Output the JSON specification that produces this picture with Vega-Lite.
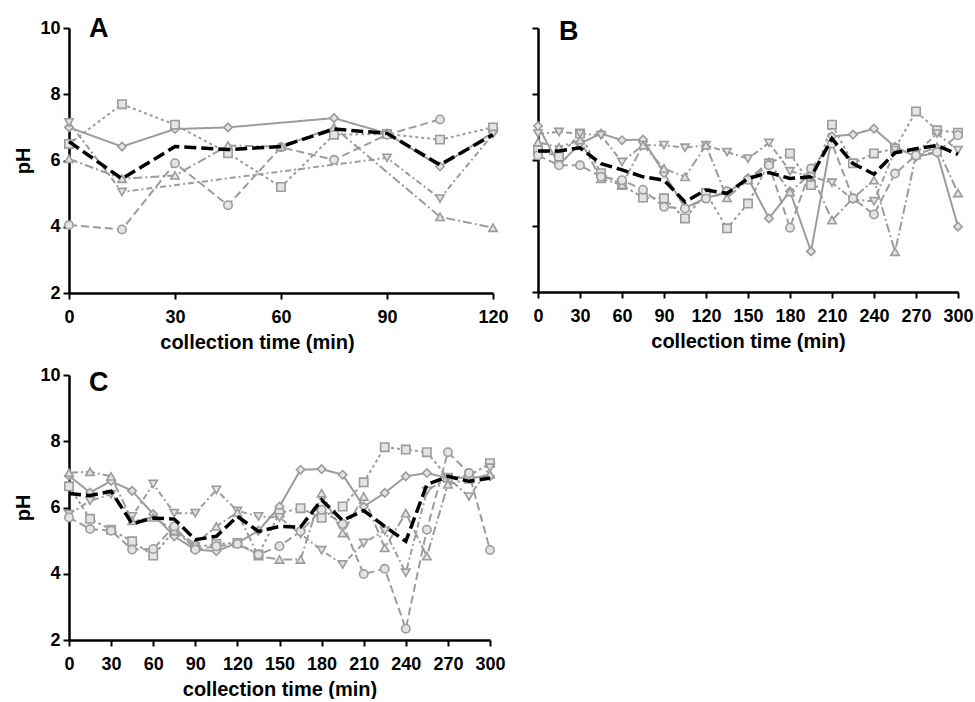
{
  "$schema": "https://vega.github.io/schema/vega-lite/v6.json",
  "autosize": {"type": "pad"},
  "padding": {"left": 13, "top": 15, "right": 5, "bottom": 0},
  "background": "white",
  "columns": 2,
  "spacing": {"row": 82, "column": 45},
  "bounds": "flush",
  "config": {
    "view": {"stroke": null},
    "font": "Liberation Sans",
    "axis": {
      "grid": false,
      "domainColor": "black", "domainWidth": 2.5,
      "tickColor": "black", "tickWidth": 2, "tickSize": 6,
      "labelFont": "Liberation Sans", "labelFontWeight": "bold", "labelFontSize": 18, "labelColor": "black",
      "titleFont": "Liberation Sans", "titleFontWeight": "bold", "titleColor": "black"
    },
    "axisX": {"labelPadding": 9, "titlePadding": 6, "labelFlush": false, "titleFontSize": 20},
    "axisY": {"labelPadding": 3, "titlePadding": 6, "labelFlush": false, "titleFontSize": 20},
    "title": {"font": "Liberation Sans", "fontWeight": "bold", "fontSize": 27, "color": "black", "anchor": "start", "frame": "group", "offset": 0, "baseline": "alphabetic"}
  },
  "data": {"values": [
    {"panel":"A","series":"mean","t":0,"pH":6.57},{"panel":"A","series":"mean","t":15,"pH":5.45},{"panel":"A","series":"mean","t":30,"pH":6.42},{"panel":"A","series":"mean","t":45,"pH":6.33},{"panel":"A","series":"mean","t":60,"pH":6.42},{"panel":"A","series":"mean","t":75,"pH":6.95},{"panel":"A","series":"mean","t":90,"pH":6.82},{"panel":"A","series":"mean","t":105,"pH":5.87},{"panel":"A","series":"mean","t":120,"pH":6.78},
    {"panel":"A","series":"dia","t":0,"pH":7.0},{"panel":"A","series":"dia","t":15,"pH":6.42},{"panel":"A","series":"dia","t":30,"pH":6.95},{"panel":"A","series":"dia","t":45,"pH":7.0},{"panel":"A","series":"dia","t":75,"pH":7.28},{"panel":"A","series":"dia","t":90,"pH":6.82},{"panel":"A","series":"dia","t":105,"pH":5.82},{"panel":"A","series":"dia","t":120,"pH":6.85},
    {"panel":"A","series":"sq","t":0,"pH":6.5},{"panel":"A","series":"sq","t":15,"pH":7.7},{"panel":"A","series":"sq","t":30,"pH":7.08},{"panel":"A","series":"sq","t":45,"pH":6.22},{"panel":"A","series":"sq","t":60,"pH":5.2},{"panel":"A","series":"sq","t":75,"pH":6.78},{"panel":"A","series":"sq","t":90,"pH":6.8},{"panel":"A","series":"sq","t":105,"pH":6.63},{"panel":"A","series":"sq","t":120,"pH":7.0},
    {"panel":"A","series":"cir","t":0,"pH":4.05},{"panel":"A","series":"cir","t":15,"pH":3.92},{"panel":"A","series":"cir","t":30,"pH":5.92},{"panel":"A","series":"cir","t":45,"pH":4.65},{"panel":"A","series":"cir","t":60,"pH":6.4},{"panel":"A","series":"cir","t":75,"pH":6.02},{"panel":"A","series":"cir","t":90,"pH":6.78},{"panel":"A","series":"cir","t":105,"pH":7.24},
    {"panel":"A","series":"tup","t":0,"pH":6.05},{"panel":"A","series":"tup","t":15,"pH":5.45},{"panel":"A","series":"tup","t":30,"pH":5.55},{"panel":"A","series":"tup","t":45,"pH":6.45},{"panel":"A","series":"tup","t":60,"pH":6.42},{"panel":"A","series":"tup","t":75,"pH":7.0},{"panel":"A","series":"tup","t":105,"pH":4.3},{"panel":"A","series":"tup","t":120,"pH":3.97},
    {"panel":"A","series":"tdn","t":0,"pH":7.15},{"panel":"A","series":"tdn","t":15,"pH":5.05},{"panel":"A","series":"tdn","t":90,"pH":6.08},{"panel":"A","series":"tdn","t":105,"pH":4.85},{"panel":"A","series":"tdn","t":120,"pH":6.8},

    {"panel":"B","series":"mean","t":0,"pH":6.27},{"panel":"B","series":"mean","t":15,"pH":6.27},{"panel":"B","series":"mean","t":30,"pH":6.37},{"panel":"B","series":"mean","t":45,"pH":5.89},{"panel":"B","series":"mean","t":60,"pH":5.7},{"panel":"B","series":"mean","t":75,"pH":5.49},{"panel":"B","series":"mean","t":90,"pH":5.39},{"panel":"B","series":"mean","t":105,"pH":4.73},{"panel":"B","series":"mean","t":120,"pH":5.09},{"panel":"B","series":"mean","t":135,"pH":4.99},{"panel":"B","series":"mean","t":150,"pH":5.44},{"panel":"B","series":"mean","t":165,"pH":5.62},{"panel":"B","series":"mean","t":180,"pH":5.44},{"panel":"B","series":"mean","t":195,"pH":5.49},{"panel":"B","series":"mean","t":210,"pH":6.65},{"panel":"B","series":"mean","t":225,"pH":5.89},{"panel":"B","series":"mean","t":240,"pH":5.57},{"panel":"B","series":"mean","t":255,"pH":6.22},{"panel":"B","series":"mean","t":270,"pH":6.34},{"panel":"B","series":"mean","t":285,"pH":6.44},{"panel":"B","series":"mean","t":300,"pH":6.17},
    {"panel":"B","series":"dia","t":0,"pH":7.03},{"panel":"B","series":"dia","t":15,"pH":5.85},{"panel":"B","series":"dia","t":30,"pH":6.5},{"panel":"B","series":"dia","t":45,"pH":6.8},{"panel":"B","series":"dia","t":60,"pH":6.6},{"panel":"B","series":"dia","t":75,"pH":6.62},{"panel":"B","series":"dia","t":90,"pH":5.6},{"panel":"B","series":"dia","t":105,"pH":4.55},{"panel":"B","series":"dia","t":120,"pH":4.85},{"panel":"B","series":"dia","t":135,"pH":5.0},{"panel":"B","series":"dia","t":150,"pH":5.45},{"panel":"B","series":"dia","t":165,"pH":4.23},{"panel":"B","series":"dia","t":180,"pH":5.05},{"panel":"B","series":"dia","t":195,"pH":3.23},{"panel":"B","series":"dia","t":210,"pH":6.72},{"panel":"B","series":"dia","t":225,"pH":6.77},{"panel":"B","series":"dia","t":240,"pH":6.95},{"panel":"B","series":"dia","t":255,"pH":6.4},{"panel":"B","series":"dia","t":270,"pH":6.1},{"panel":"B","series":"dia","t":285,"pH":6.22},{"panel":"B","series":"dia","t":300,"pH":3.98},
    {"panel":"B","series":"sq","t":0,"pH":6.3},{"panel":"B","series":"sq","t":15,"pH":6.1},{"panel":"B","series":"sq","t":30,"pH":6.8},{"panel":"B","series":"sq","t":45,"pH":5.6},{"panel":"B","series":"sq","t":60,"pH":5.24},{"panel":"B","series":"sq","t":75,"pH":4.86},{"panel":"B","series":"sq","t":90,"pH":4.84},{"panel":"B","series":"sq","t":105,"pH":4.23},{"panel":"B","series":"sq","t":120,"pH":5.0},{"panel":"B","series":"sq","t":135,"pH":3.93},{"panel":"B","series":"sq","t":150,"pH":4.68},{"panel":"B","series":"sq","t":165,"pH":5.9},{"panel":"B","series":"sq","t":180,"pH":6.2},{"panel":"B","series":"sq","t":195,"pH":5.24},{"panel":"B","series":"sq","t":210,"pH":7.07},{"panel":"B","series":"sq","t":225,"pH":5.9},{"panel":"B","series":"sq","t":240,"pH":6.2},{"panel":"B","series":"sq","t":255,"pH":6.35},{"panel":"B","series":"sq","t":270,"pH":7.47},{"panel":"B","series":"sq","t":285,"pH":6.9},{"panel":"B","series":"sq","t":300,"pH":6.83},
    {"panel":"B","series":"tdn","t":0,"pH":6.8},{"panel":"B","series":"tdn","t":15,"pH":6.85},{"panel":"B","series":"tdn","t":30,"pH":6.8},{"panel":"B","series":"tdn","t":45,"pH":6.75},{"panel":"B","series":"tdn","t":60,"pH":5.94},{"panel":"B","series":"tdn","t":75,"pH":6.45},{"panel":"B","series":"tdn","t":90,"pH":6.45},{"panel":"B","series":"tdn","t":105,"pH":6.37},{"panel":"B","series":"tdn","t":120,"pH":6.45},{"panel":"B","series":"tdn","t":135,"pH":6.24},{"panel":"B","series":"tdn","t":150,"pH":6.04},{"panel":"B","series":"tdn","t":165,"pH":6.52},{"panel":"B","series":"tdn","t":180,"pH":5.66},{"panel":"B","series":"tdn","t":195,"pH":5.5},{"panel":"B","series":"tdn","t":210,"pH":5.31},{"panel":"B","series":"tdn","t":225,"pH":4.8},{"panel":"B","series":"tdn","t":240,"pH":4.75},{"panel":"B","series":"tdn","t":255,"pH":6.3},{"panel":"B","series":"tdn","t":270,"pH":6.2},{"panel":"B","series":"tdn","t":285,"pH":6.8},{"panel":"B","series":"tdn","t":300,"pH":6.3},
    {"panel":"B","series":"tup","t":0,"pH":6.54},{"panel":"B","series":"tup","t":15,"pH":6.39},{"panel":"B","series":"tup","t":30,"pH":6.6},{"panel":"B","series":"tup","t":45,"pH":5.43},{"panel":"B","series":"tup","t":60,"pH":5.25},{"panel":"B","series":"tup","t":75,"pH":6.45},{"panel":"B","series":"tup","t":90,"pH":5.74},{"panel":"B","series":"tup","t":105,"pH":5.49},{"panel":"B","series":"tup","t":120,"pH":6.45},{"panel":"B","series":"tup","t":135,"pH":4.85},{"panel":"B","series":"tup","t":150,"pH":5.4},{"panel":"B","series":"tup","t":165,"pH":5.94},{"panel":"B","series":"tup","t":180,"pH":5.03},{"panel":"B","series":"tup","t":195,"pH":5.6},{"panel":"B","series":"tup","t":210,"pH":4.18},{"panel":"B","series":"tup","t":225,"pH":4.84},{"panel":"B","series":"tup","t":240,"pH":5.39},{"panel":"B","series":"tup","t":255,"pH":3.22},{"panel":"B","series":"tup","t":270,"pH":6.15},{"panel":"B","series":"tup","t":285,"pH":6.4},{"panel":"B","series":"tup","t":300,"pH":5.0},
    {"panel":"B","series":"cir","t":0,"pH":6.14},{"panel":"B","series":"cir","t":15,"pH":5.84},{"panel":"B","series":"cir","t":30,"pH":5.84},{"panel":"B","series":"cir","t":45,"pH":5.49},{"panel":"B","series":"cir","t":60,"pH":5.39},{"panel":"B","series":"cir","t":75,"pH":5.1},{"panel":"B","series":"cir","t":90,"pH":4.58},{"panel":"B","series":"cir","t":105,"pH":4.53},{"panel":"B","series":"cir","t":120,"pH":4.83},{"panel":"B","series":"cir","t":135,"pH":5.05},{"panel":"B","series":"cir","t":150,"pH":5.4},{"panel":"B","series":"cir","t":165,"pH":5.84},{"panel":"B","series":"cir","t":180,"pH":3.95},{"panel":"B","series":"cir","t":195,"pH":5.74},{"panel":"B","series":"cir","t":210,"pH":6.5},{"panel":"B","series":"cir","t":225,"pH":4.84},{"panel":"B","series":"cir","t":240,"pH":4.35},{"panel":"B","series":"cir","t":255,"pH":5.59},{"panel":"B","series":"cir","t":270,"pH":6.14},{"panel":"B","series":"cir","t":285,"pH":6.24},{"panel":"B","series":"cir","t":300,"pH":6.75},

    {"panel":"C","series":"mean","t":0,"pH":6.42},{"panel":"C","series":"mean","t":15,"pH":6.36},{"panel":"C","series":"mean","t":30,"pH":6.49},{"panel":"C","series":"mean","t":45,"pH":5.51},{"panel":"C","series":"mean","t":60,"pH":5.68},{"panel":"C","series":"mean","t":75,"pH":5.65},{"panel":"C","series":"mean","t":90,"pH":5.03},{"panel":"C","series":"mean","t":105,"pH":5.13},{"panel":"C","series":"mean","t":120,"pH":5.73},{"panel":"C","series":"mean","t":135,"pH":5.28},{"panel":"C","series":"mean","t":150,"pH":5.43},{"panel":"C","series":"mean","t":165,"pH":5.41},{"panel":"C","series":"mean","t":180,"pH":6.23},{"panel":"C","series":"mean","t":195,"pH":5.61},{"panel":"C","series":"mean","t":210,"pH":5.91},{"panel":"C","series":"mean","t":225,"pH":5.43},{"panel":"C","series":"mean","t":240,"pH":4.98},{"panel":"C","series":"mean","t":255,"pH":6.69},{"panel":"C","series":"mean","t":270,"pH":6.94},{"panel":"C","series":"mean","t":285,"pH":6.79},{"panel":"C","series":"mean","t":300,"pH":6.89},
    {"panel":"C","series":"dia","t":0,"pH":6.96},{"panel":"C","series":"dia","t":15,"pH":6.45},{"panel":"C","series":"dia","t":30,"pH":6.8},{"panel":"C","series":"dia","t":45,"pH":6.5},{"panel":"C","series":"dia","t":60,"pH":5.8},{"panel":"C","series":"dia","t":75,"pH":5.13},{"panel":"C","series":"dia","t":90,"pH":4.73},{"panel":"C","series":"dia","t":105,"pH":4.68},{"panel":"C","series":"dia","t":120,"pH":4.93},{"panel":"C","series":"dia","t":135,"pH":5.3},{"panel":"C","series":"dia","t":150,"pH":6.03},{"panel":"C","series":"dia","t":165,"pH":7.14},{"panel":"C","series":"dia","t":180,"pH":7.16},{"panel":"C","series":"dia","t":195,"pH":6.99},{"panel":"C","series":"dia","t":210,"pH":6.03},{"panel":"C","series":"dia","t":225,"pH":6.44},{"panel":"C","series":"dia","t":240,"pH":6.94},{"panel":"C","series":"dia","t":255,"pH":7.04},{"panel":"C","series":"dia","t":270,"pH":6.89},{"panel":"C","series":"dia","t":285,"pH":6.9},{"panel":"C","series":"dia","t":300,"pH":6.94},
    {"panel":"C","series":"sq","t":0,"pH":6.64},{"panel":"C","series":"sq","t":15,"pH":5.66},{"panel":"C","series":"sq","t":30,"pH":5.33},{"panel":"C","series":"sq","t":45,"pH":4.98},{"panel":"C","series":"sq","t":60,"pH":4.55},{"panel":"C","series":"sq","t":75,"pH":5.3},{"panel":"C","series":"sq","t":90,"pH":4.8},{"panel":"C","series":"sq","t":105,"pH":4.9},{"panel":"C","series":"sq","t":120,"pH":4.93},{"panel":"C","series":"sq","t":135,"pH":4.58},{"panel":"C","series":"sq","t":150,"pH":5.83},{"panel":"C","series":"sq","t":165,"pH":5.98},{"panel":"C","series":"sq","t":180,"pH":5.69},{"panel":"C","series":"sq","t":195,"pH":6.03},{"panel":"C","series":"sq","t":210,"pH":6.76},{"panel":"C","series":"sq","t":225,"pH":7.82},{"panel":"C","series":"sq","t":240,"pH":7.75},{"panel":"C","series":"sq","t":255,"pH":7.67},{"panel":"C","series":"sq","t":270,"pH":6.9},{"panel":"C","series":"sq","t":285,"pH":6.95},{"panel":"C","series":"sq","t":300,"pH":7.34},
    {"panel":"C","series":"tdn","t":0,"pH":5.8},{"panel":"C","series":"tdn","t":15,"pH":6.2},{"panel":"C","series":"tdn","t":30,"pH":6.4},{"panel":"C","series":"tdn","t":45,"pH":5.73},{"panel":"C","series":"tdn","t":60,"pH":6.71},{"panel":"C","series":"tdn","t":75,"pH":5.83},{"panel":"C","series":"tdn","t":90,"pH":5.83},{"panel":"C","series":"tdn","t":105,"pH":6.53},{"panel":"C","series":"tdn","t":120,"pH":5.9},{"panel":"C","series":"tdn","t":135,"pH":5.73},{"panel":"C","series":"tdn","t":150,"pH":5.7},{"panel":"C","series":"tdn","t":165,"pH":5.2},{"panel":"C","series":"tdn","t":180,"pH":4.71},{"panel":"C","series":"tdn","t":195,"pH":4.28},{"panel":"C","series":"tdn","t":210,"pH":4.93},{"panel":"C","series":"tdn","t":225,"pH":5.3},{"panel":"C","series":"tdn","t":240,"pH":4.03},{"panel":"C","series":"tdn","t":255,"pH":6.5},{"panel":"C","series":"tdn","t":270,"pH":6.9},{"panel":"C","series":"tdn","t":285,"pH":6.33},{"panel":"C","series":"tdn","t":300,"pH":7.2},
    {"panel":"C","series":"tup","t":0,"pH":7.05},{"panel":"C","series":"tup","t":15,"pH":7.08},{"panel":"C","series":"tup","t":30,"pH":6.94},{"panel":"C","series":"tup","t":45,"pH":5.6},{"panel":"C","series":"tup","t":60,"pH":5.7},{"panel":"C","series":"tup","t":75,"pH":5.3},{"panel":"C","series":"tup","t":90,"pH":4.9},{"panel":"C","series":"tup","t":105,"pH":5.43},{"panel":"C","series":"tup","t":120,"pH":5.85},{"panel":"C","series":"tup","t":135,"pH":4.53},{"panel":"C","series":"tup","t":150,"pH":4.43},{"panel":"C","series":"tup","t":165,"pH":4.43},{"panel":"C","series":"tup","t":180,"pH":6.43},{"panel":"C","series":"tup","t":195,"pH":5.23},{"panel":"C","series":"tup","t":210,"pH":6.33},{"panel":"C","series":"tup","t":225,"pH":4.78},{"panel":"C","series":"tup","t":240,"pH":5.83},{"panel":"C","series":"tup","t":255,"pH":4.53},{"panel":"C","series":"tup","t":270,"pH":6.7},{"panel":"C","series":"tup","t":285,"pH":6.85},{"panel":"C","series":"tup","t":300,"pH":7.0},
    {"panel":"C","series":"cir","t":0,"pH":5.7},{"panel":"C","series":"cir","t":15,"pH":5.35},{"panel":"C","series":"cir","t":30,"pH":5.3},{"panel":"C","series":"cir","t":45,"pH":4.73},{"panel":"C","series":"cir","t":60,"pH":4.75},{"panel":"C","series":"cir","t":75,"pH":5.43},{"panel":"C","series":"cir","t":90,"pH":4.73},{"panel":"C","series":"cir","t":105,"pH":4.83},{"panel":"C","series":"cir","t":120,"pH":4.9},{"panel":"C","series":"cir","t":135,"pH":4.58},{"panel":"C","series":"cir","t":150,"pH":4.83},{"panel":"C","series":"cir","t":165,"pH":5.28},{"panel":"C","series":"cir","t":180,"pH":5.93},{"panel":"C","series":"cir","t":195,"pH":5.5},{"panel":"C","series":"cir","t":210,"pH":3.99},{"panel":"C","series":"cir","t":225,"pH":4.15},{"panel":"C","series":"cir","t":240,"pH":2.34},{"panel":"C","series":"cir","t":255,"pH":5.33},{"panel":"C","series":"cir","t":270,"pH":7.67},{"panel":"C","series":"cir","t":285,"pH":7.04},{"panel":"C","series":"cir","t":300,"pH":4.72}
  ]},
  "concat": [
    {
      "width": 424, "height": 265,
      "title": {"text": "A", "dx": 20, "dy": 28},
      "transform": [{"filter": "datum.panel === 'A'"}],
      "encoding": {
        "x": {"field": "t", "type": "quantitative", "scale": {"domain": [0, 120], "nice": false}, "axis": {"values": [0, 30, 60, 90, 120], "title": "collection time (min)", "titleX": 188}},
        "y": {"field": "pH", "type": "quantitative", "scale": {"domain": [2, 10], "nice": false, "zero": false}, "axis": {"values": [2, 4, 6, 8, 10], "title": "pH"}}
      },
      "layer": [
        {"transform": [{"filter": "datum.series !== 'mean'"}], "mark": {"type": "line", "color": "#9c9c9c", "strokeWidth": 2},
         "encoding": {"strokeDash": {"field": "series", "type": "nominal", "legend": null, "scale": {"domain": ["dia", "sq", "cir", "tup", "tdn"], "range": [[1, 0], [3, 3], [8, 4], [9, 3, 2, 3], [6, 3, 2, 3]]}}}},
        {"transform": [{"filter": "datum.series !== 'mean'"}], "mark": {"type": "point", "filled": true, "fill": "#e4e4e4", "stroke": "#9c9c9c", "strokeWidth": 1.6, "size": 70, "opacity": 1},
         "encoding": {"shape": {"field": "series", "type": "nominal", "legend": null, "scale": {"domain": ["dia", "sq", "cir", "tup", "tdn"], "range": ["diamond", "square", "circle", "triangle-up", "triangle-down"]}}}},
        {"transform": [{"filter": "datum.series === 'mean'"}], "mark": {"type": "line", "color": "black", "strokeWidth": 3.5, "strokeDash": [12, 5]}, "encoding": {}}
      ]
    },
    {
      "width": 420, "height": 264,
      "title": {"text": "B", "dx": 21, "dy": 23},
      "transform": [{"filter": "datum.panel === 'B'"}],
      "encoding": {
        "x": {"field": "t", "type": "quantitative", "scale": {"domain": [0, 300], "nice": false}, "axis": {"values": [0, 30, 60, 90, 120, 150, 180, 210, 240, 270, 300], "title": "collection time (min)"}},
        "y": {"field": "pH", "type": "quantitative", "scale": {"domain": [2, 10], "nice": false, "zero": false}, "axis": {"values": [2, 4, 6, 8, 10], "title": null, "labels": false}}
      },
      "layer": [
        {"transform": [{"filter": "datum.series !== 'mean'"}], "mark": {"type": "line", "color": "#9c9c9c", "strokeWidth": 2},
         "encoding": {"strokeDash": {"field": "series", "type": "nominal", "legend": null, "scale": {"domain": ["dia", "sq", "cir", "tup", "tdn"], "range": [[1, 0], [3, 3], [8, 4], [9, 3, 2, 3], [6, 3, 2, 3]]}}}},
        {"transform": [{"filter": "datum.series !== 'mean'"}], "mark": {"type": "point", "filled": true, "fill": "#e4e4e4", "stroke": "#9c9c9c", "strokeWidth": 1.6, "size": 70, "opacity": 1},
         "encoding": {"shape": {"field": "series", "type": "nominal", "legend": null, "scale": {"domain": ["dia", "sq", "cir", "tup", "tdn"], "range": ["diamond", "square", "circle", "triangle-up", "triangle-down"]}}}},
        {"transform": [{"filter": "datum.series === 'mean'"}], "mark": {"type": "line", "color": "black", "strokeWidth": 3.5, "strokeDash": [12, 5]}, "encoding": {}}
      ]
    },
    {
      "width": 421, "height": 265,
      "title": {"text": "C", "dx": 20, "dy": 35},
      "transform": [{"filter": "datum.panel === 'C'"}],
      "encoding": {
        "x": {"field": "t", "type": "quantitative", "scale": {"domain": [0, 300], "nice": false}, "axis": {"values": [0, 30, 60, 90, 120, 150, 180, 210, 240, 270, 300], "title": "collection time (min)"}},
        "y": {"field": "pH", "type": "quantitative", "scale": {"domain": [2, 10], "nice": false, "zero": false}, "axis": {"values": [2, 4, 6, 8, 10], "title": "pH"}}
      },
      "layer": [
        {"transform": [{"filter": "datum.series !== 'mean'"}], "mark": {"type": "line", "color": "#9c9c9c", "strokeWidth": 2},
         "encoding": {"strokeDash": {"field": "series", "type": "nominal", "legend": null, "scale": {"domain": ["dia", "sq", "cir", "tup", "tdn"], "range": [[1, 0], [3, 3], [8, 4], [9, 3, 2, 3], [6, 3, 2, 3]]}}}},
        {"transform": [{"filter": "datum.series !== 'mean'"}], "mark": {"type": "point", "filled": true, "fill": "#e4e4e4", "stroke": "#9c9c9c", "strokeWidth": 1.6, "size": 70, "opacity": 1},
         "encoding": {"shape": {"field": "series", "type": "nominal", "legend": null, "scale": {"domain": ["dia", "sq", "cir", "tup", "tdn"], "range": ["diamond", "square", "circle", "triangle-up", "triangle-down"]}}}},
        {"transform": [{"filter": "datum.series === 'mean'"}], "mark": {"type": "line", "color": "black", "strokeWidth": 3.5, "strokeDash": [12, 5]}, "encoding": {}}
      ]
    }
  ]
}
